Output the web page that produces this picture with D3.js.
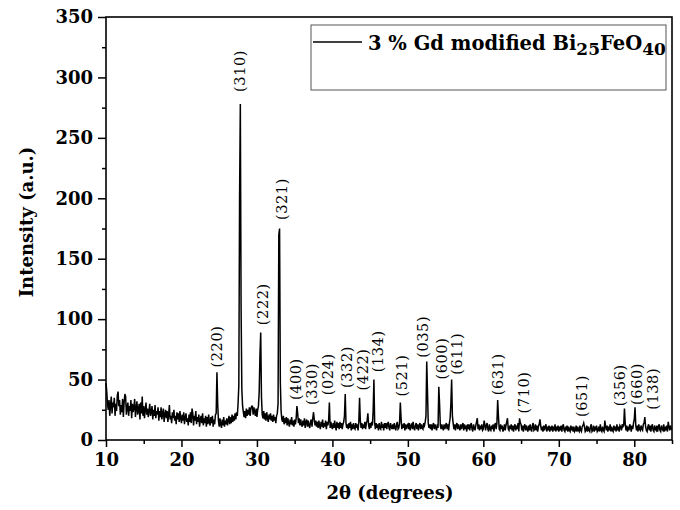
<!DOCTYPE html>
<html>
<head>
<meta charset="utf-8">
<script src="https://cdn.jsdelivr.net/npm/d3@7"></script>
<style>
  body { margin: 0; background: #fff; }
  svg { display: block; }
</style>
</head>
<body>
<script>
// XRD scan, 10 - 85 deg in 0.1 deg steps (one row per degree)
const thetaStart = 10;
const thetaStep = 0.1;
const intensity = [
  47, 40, 30, 25, 33, 20, 29, 36, 22, 31,
  27, 35, 20, 30, 24, 37, 40, 28, 33, 21,
  29, 23, 34, 19, 31, 38, 36, 21, 27, 31,
  20, 28, 24, 33, 18, 30, 23, 27, 34, 19,
  26, 32, 21, 25, 30, 17, 31, 22, 36, 20,
  28, 18, 25, 31, 21, 26, 19, 24, 30, 20,
  23, 28, 17, 25, 20, 29, 18, 24, 21, 27,
  16, 24, 19, 27, 17, 22, 26, 15, 21, 25,
  18, 24, 15, 21, 29, 17, 20, 14, 23, 18,
  25, 16, 20, 13, 23, 17, 22, 15, 24, 18,
  14, 21, 16, 23, 13, 19, 22, 15, 18, 12,
  21, 15, 23, 14, 26, 22, 12, 20, 16, 24,
  13, 19, 15, 21, 11, 17, 20, 14, 22, 12,
  18, 14, 20, 11, 19, 13, 21, 15, 12, 19,
  14, 20, 11, 17, 13, 21, 22, 56, 30, 16,
  11, 18, 13, 10, 17, 12, 19, 11, 16, 13,
  18, 12, 16, 20, 13, 19, 14, 21, 15, 20,
  16, 22, 17, 23, 20, 30, 45, 200, 278, 110,
  42, 28, 23, 19, 24, 18, 26, 20, 25, 21,
  27, 20, 26, 28, 28, 21, 27, 23, 20, 26,
  19, 25, 28, 40, 70, 89, 36, 21, 18, 24,
  17, 22, 16, 23, 18, 15, 21, 17, 22, 16,
  20, 15, 21, 16, 19, 14, 20, 22, 30, 170,
  175, 48, 24, 17, 15, 20, 13, 18, 14, 19,
  12, 18, 14, 11, 17, 13, 19, 12, 16, 11,
  17, 13, 18, 28, 22, 14, 18, 12, 17, 13,
  11, 16, 12, 18, 10, 15, 17, 11, 16, 12,
  10, 15, 17, 11, 18, 23, 17, 12, 16, 11,
  15, 10, 16, 12, 9, 15, 11, 17, 10, 14,
  11, 16, 9, 15, 12, 16, 31, 10, 15, 11,
  9, 14, 10, 16, 11, 8, 15, 10, 14, 9,
  15, 10, 14, 9, 13, 15, 20, 38, 14, 10,
  13, 9, 14, 10, 15, 8, 13, 9, 14, 10,
  9, 14, 10, 13, 8, 15, 35, 16, 10, 14,
  9, 13, 10, 15, 9, 14, 16, 22, 12, 9,
  14, 10, 15, 12, 24, 50, 14, 9, 14, 10,
  13, 8, 14, 10, 9, 15, 10, 13, 8, 14,
  10, 14, 9, 13, 15, 10, 8, 14, 11, 9,
  13, 9, 14, 10, 8, 13, 15, 9, 10, 14,
  31, 18, 9, 13, 10, 14, 8, 13, 9, 12,
  13, 9, 14, 8, 12, 13, 9, 15, 10, 8,
  12, 14, 9, 13, 8, 12, 14, 9, 13, 10,
  9, 14, 12, 15, 20, 65, 40, 14, 10, 13,
  9, 13, 8, 12, 14, 9, 13, 10, 8, 13,
  10, 44, 30, 12, 9, 13, 10, 8, 13, 9,
  12, 14, 9, 13, 8, 14, 18, 30, 50, 20,
  14, 9, 13, 8, 12, 14, 9, 13, 10, 8,
  13, 9, 12, 14, 8, 13, 9, 12, 7, 13,
  9, 13, 8, 12, 14, 9, 7, 13, 10, 8,
  12, 15, 18, 9, 13, 8, 12, 9, 13, 8,
  9, 16, 13, 8, 12, 14, 9, 7, 13, 9,
  8, 12, 9, 13, 7, 12, 14, 9, 14, 33,
  20, 9, 8, 13, 9, 12, 7, 9, 13, 8,
  12, 15, 18, 9, 8, 12, 9, 13, 8, 12,
  7, 11, 13, 8, 12, 9, 14, 7, 18, 14,
  13, 8, 12, 7, 11, 13, 8, 12, 9, 7,
  12, 8, 13, 9, 7, 12, 14, 8, 9, 13,
  8, 12, 7, 11, 13, 17, 12, 8, 11, 7,
  12, 8, 11, 13, 7, 11, 8, 12, 7, 11,
  8, 12, 7, 11, 8, 13, 7, 11, 8, 12,
  7, 11, 8, 12, 7, 11, 13, 8, 7, 11,
  8, 12, 7, 11, 8, 7, 12, 8, 11, 7,
  11, 7, 8, 12, 7, 11, 8, 7, 12, 8,
  7, 11, 12, 14, 11, 7, 8, 12, 7, 11,
  8, 7, 11, 13, 7, 8, 12, 7, 11, 8,
  12, 7, 8, 11, 7, 13, 8, 7, 11, 8,
  7, 16, 11, 8, 12, 7, 11, 8, 13, 7,
  11, 8, 7, 12, 8, 11, 7, 13, 8, 11,
  7, 12, 11, 8, 13, 11, 12, 26, 14, 8,
  12, 7, 11, 8, 13, 11, 7, 12, 9, 14,
  17, 27, 12, 8, 12, 7, 13, 9, 8, 12,
  9, 8, 13, 14, 19, 11, 8, 7, 11, 13,
  8, 12, 7, 11, 13, 8, 7, 12, 9, 8,
  12, 7, 11, 13, 8, 7, 12, 9, 8, 13,
  7, 11, 8, 12, 7, 15, 11, 8, 12, 9,
  9
];

// Miller index labels: text, 2theta of label, intensity at label foot
const hklText = ["(220)", "(310)", "(222)", "(321)", "(400)", "(330)", "(024)", "(332)", "(422)", "(134)",
                 "(521)", "(035)", "(600)", "(611)", "(631)", "(710)", "(651)", "(356)", "(660)", "(138)"];
const hklTheta = [24.66, 27.81, 30.75, 33.27, 35.17, 37.25, 39.44, 41.88, 44.08, 46.07,
                  49.17, 52.03, 54.46, 56.53, 61.96, 65.36, 73.14, 78.08, 80.33, 82.45];
const hklBase = [60, 288, 95, 182, 33, 29, 37, 43, 41, 56,
                 36, 68, 50, 54, 37, 22, 19, 28, 29, 25];

const xTicks = [10, 20, 30, 40, 50, 60, 70, 80];
const xMinor = [15, 25, 35, 45, 55, 65, 75, 85];
const yTicks = [0, 50, 100, 150, 200, 250, 300, 350];
const yMinor = [25, 75, 125, 175, 225, 275, 325];

const legendName = "3 % Gd modified Bi";

const width = 680, height = 510;
const serif = "'DejaVu Serif', serif";

const svg = d3.select("body").append("svg")
    .attr("width", width)
    .attr("height", height);

const x = d3.scaleLinear().domain([10, 85]).range([106, 672]);
const y = d3.scaleLinear().domain([0, 350]).range([440, 17]);

const scan = intensity.map((v, i) => ({t: thetaStart + i * thetaStep, v: v}));

// pattern
svg.append("path")
    .datum(scan)
    .attr("fill", "none")
    .attr("stroke", "#000")
    .attr("stroke-width", 1.5)
    .attr("stroke-linejoin", "miter")
    .attr("d", d3.line().x(d => x(d.t)).y(d => y(d.v)));

// axes
svg.append("g")
    .attr("transform", `translate(0,${y(0)})`)
    .call(d3.axisBottom(x).tickValues(xTicks).tickSize(7).tickPadding(6));
svg.append("g")
    .attr("transform", `translate(0,${y(0)})`)
    .call(d3.axisBottom(x).tickValues(xMinor).tickSize(4).tickFormat(""));

svg.append("g")
    .attr("transform", `translate(${x(10)},0)`)
    .call(d3.axisLeft(y).tickValues(yTicks).tickSize(8).tickPadding(5));
svg.append("g")
    .attr("transform", `translate(${x(10)},0)`)
    .call(d3.axisLeft(y).tickValues(yMinor).tickSize(4).tickFormat(""));

svg.selectAll(".domain").remove();
svg.selectAll(".tick line").attr("stroke", "#000").attr("stroke-width", 1.5);
svg.selectAll(".tick text")
    .attr("fill", "#000")
    .style("font", `bold 18px ${serif}`);

// frame
svg.append("rect")
    .attr("x", x(10))
    .attr("y", y(350))
    .attr("width", x(85) - x(10))
    .attr("height", y(0) - y(350))
    .attr("fill", "none")
    .attr("stroke", "#000")
    .attr("stroke-width", 1.6);

// hkl labels
svg.append("g")
  .selectAll("text")
  .data(hklText)
  .join("text")
    .attr("transform", (d, i) => `translate(${x(hklTheta[i])},${y(hklBase[i])}) rotate(-90)`)
    .attr("dominant-baseline", "central")
    .attr("letter-spacing", 0.6)
    .style("font", `14.5px ${serif}`)
    .attr("fill", "#000")
    .text(d => d);

// axis titles
svg.append("text")
    .attr("x", 390)
    .attr("y", 499)
    .attr("text-anchor", "middle")
    .style("font", `bold 18px ${serif}`)
    .text("2θ (degrees)");

svg.append("text")
    .attr("transform", `translate(33,222) rotate(-90)`)
    .attr("text-anchor", "middle")
    .style("font", `bold 18px ${serif}`)
    .text("Intensity (a.u.)");

// legend
const legend = svg.append("g");
legend.append("rect")
    .attr("x", 311)
    .attr("y", 25)
    .attr("width", 355)
    .attr("height", 65)
    .attr("fill", "#fff")
    .attr("stroke", "#555")
    .attr("stroke-width", 1);
legend.append("line")
    .attr("x1", 313).attr("x2", 362)
    .attr("y1", 42).attr("y2", 42)
    .attr("stroke", "#000")
    .attr("stroke-width", 1.6);
const lt = legend.append("text")
    .attr("x", 368)
    .attr("y", 50)
    .style("font", `bold 19.5px ${serif}`);
lt.append("tspan").text(legendName);
lt.append("tspan").attr("dy", 5).style("font-size", "17px").text("25");
lt.append("tspan").attr("dy", -5).text("FeO");
lt.append("tspan").attr("dy", 5).style("font-size", "17px").text("40");
</script>
</body>
</html>
